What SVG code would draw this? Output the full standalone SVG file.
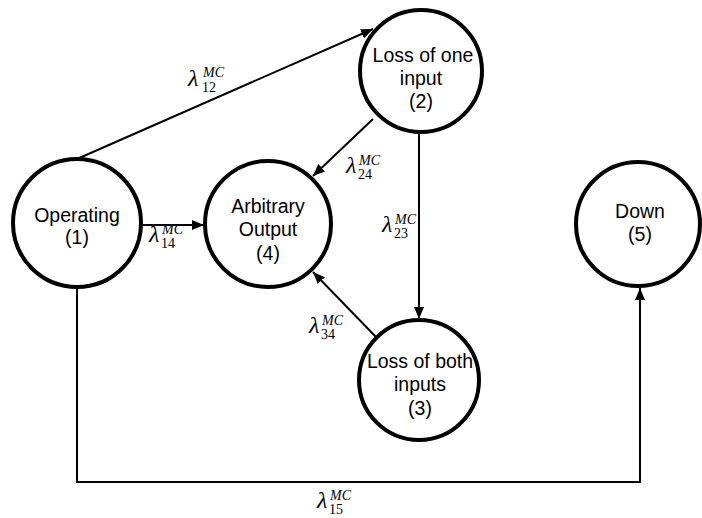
<svg xmlns="http://www.w3.org/2000/svg" width="702" height="518" viewBox="0 0 702 518">
<style>
.node{fill:#fff;stroke:#000;stroke-width:4}
.lbl{font-family:"Liberation Sans",Arial,sans-serif;font-size:19.5px;fill:#000;text-anchor:middle}
.edge{fill:none;stroke:#000;stroke-width:2}
.lam{font-family:"Liberation Serif","Times New Roman",serif;font-style:italic;font-size:24px;fill:#000}
.sup{font-family:"Liberation Serif","Times New Roman",serif;font-style:italic;font-size:14px;fill:#000}
.sub{font-family:"Liberation Serif","Times New Roman",serif;font-size:14px;fill:#000}
</style>
<defs>
<marker id="arr" viewBox="0 0 12 10" refX="12" refY="5" markerWidth="12" markerHeight="10" markerUnits="userSpaceOnUse" orient="auto">
<path d="M0,0 L12,5 L0,10 Z" fill="#000"/>
</marker>
</defs>
<rect width="702" height="518" fill="#fff"/>
<g id="connectors">
<line class="edge" x1="77" y1="159" x2="373" y2="29" marker-end="url(#arr)"/>
<line class="edge" x1="141" y1="225" x2="204" y2="225" marker-end="url(#arr)"/>
<line class="edge" x1="373" y1="119" x2="313" y2="176" marker-end="url(#arr)"/>
<line class="edge" x1="419" y1="132" x2="419" y2="319" marker-end="url(#arr)"/>
<line class="edge" x1="376" y1="337" x2="313" y2="272" marker-end="url(#arr)"/>
<path class="edge" d="M77,287 L77,482 L640,482 L640,288" marker-end="url(#arr)"/>
<g id="l12"><text class="lam" x="188" y="86">λ</text><text class="sup" x="203" y="77">MC</text><text class="sub" x="202" y="92">12</text></g>
<g id="l14"><text class="lam" x="149" y="242">λ</text><text class="sup" x="162" y="234">MC</text><text class="sub" x="161" y="248">14</text></g>
<g id="l24"><text class="lam" x="346" y="173">λ</text><text class="sup" x="359" y="165">MC</text><text class="sub" x="358" y="179">24</text></g>
<g id="l23"><text class="lam" x="382" y="232">λ</text><text class="sup" x="395" y="224">MC</text><text class="sub" x="394" y="238">23</text></g>
<g id="l34"><text class="lam" x="309" y="333">λ</text><text class="sup" x="322" y="325">MC</text><text class="sub" x="321" y="339">34</text></g>
<g id="l15"><text class="lam" x="317" y="508">λ</text><text class="sup" x="330" y="500">MC</text><text class="sub" x="329" y="514">15</text></g>
</g>
<g id="n1"><circle class="node" cx="77" cy="223" r="64"/><text class="lbl" x="77" y="222">Operating</text><text class="lbl" x="77" y="244">(1)</text></g>
<g id="n4"><circle class="node" cx="268" cy="224" r="63"/><text class="lbl" x="268" y="213">Arbitrary</text><text class="lbl" x="268" y="236">Output</text><text class="lbl" x="268" y="260">(4)</text></g>
<g id="n2"><circle class="node" cx="421" cy="71" r="61"/><text class="lbl" x="423" y="62">Loss of one</text><text class="lbl" x="421" y="85">input</text><text class="lbl" x="421" y="108">(2)</text></g>
<g id="n3"><circle class="node" cx="419" cy="380" r="60"/><text class="lbl" x="420" y="368">Loss of both</text><text class="lbl" x="420" y="391">inputs</text><text class="lbl" x="420" y="415">(3)</text></g>
<g id="n5"><circle class="node" cx="638" cy="224" r="62"/><text class="lbl" x="640" y="218">Down</text><text class="lbl" x="640" y="241">(5)</text></g>
</svg>
